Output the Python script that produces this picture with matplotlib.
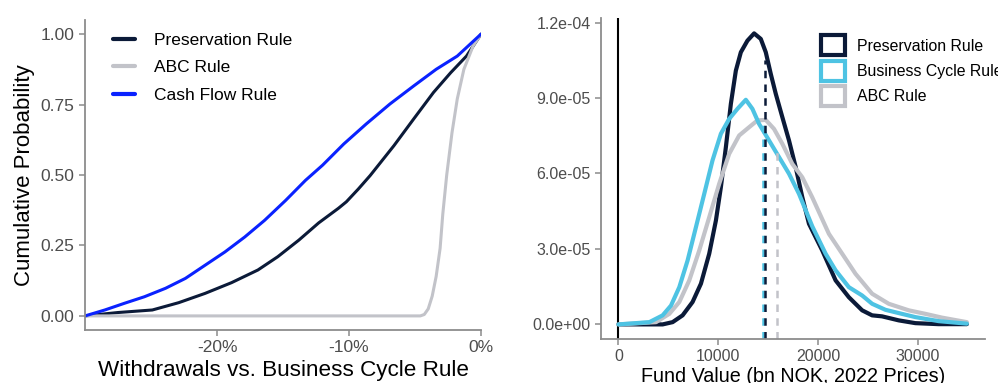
import matplotlib.pyplot as plt
from matplotlib.patches import Patch
from matplotlib.ticker import FuncFormatter

plt.rcParams['font.family'] = ['Liberation Sans', 'DejaVu Sans']

NAVY = '#0b1a38'
BLUE = '#0a22ff'
SKY = '#4ec3e3'
GREY = '#c2c3c9'
TICK = '#4d4d4d'
AXIS = '#8c8c8c'

# withdrawal gap (share) vs cumulative probability
pres_x = [-0.300, -0.275, -0.249, -0.229, -0.209, -0.189, -0.169, -0.154, -0.138,
          -0.123, -0.108, -0.102, -0.093, -0.084, -0.066, -0.051, -0.036, -0.023,
          -0.011, 0.0]
pres_p = [0.0, 0.012, 0.021, 0.047, 0.080, 0.118, 0.163, 0.210, 0.269,
          0.330, 0.382, 0.405, 0.450, 0.498, 0.604, 0.699, 0.793, 0.863,
          0.922, 1.0]

abc_x = [-0.300, -0.046, -0.043, -0.040, -0.037, -0.034, -0.031, -0.029, -0.026,
         -0.022, -0.018, -0.013, -0.006, 0.0]
abc_p = [0.0, 0.0, 0.005, 0.025, 0.070, 0.140, 0.240, 0.360, 0.500,
         0.650, 0.770, 0.875, 0.958, 1.0]

cash_x = [-0.300, -0.285, -0.270, -0.255, -0.239, -0.224, -0.209, -0.194, -0.179,
          -0.164, -0.148, -0.133, -0.120, -0.104, -0.087, -0.069, -0.051, -0.034,
          -0.018, 0.0]
cash_p = [0.0, 0.021, 0.045, 0.068, 0.098, 0.133, 0.180, 0.227, 0.280,
          0.339, 0.410, 0.481, 0.535, 0.610, 0.681, 0.752, 0.816, 0.875,
          0.922, 1.0]

# fund value densities
pres_v = [0, 4430, 5430, 6430, 7430, 8270, 9100, 9770, 10270, 10770, 11270, 11770,
          12270, 12930, 13600, 14270, 14770, 15270, 15770, 16430, 17100, 17770,
          18430, 19100, 20430, 21770, 23100, 24430, 25430, 26430, 28100, 29770,
          32100, 34930]
pres_d = [0.0, 0.0, 0.9e-6, 3.6e-6, 8.9e-6, 1.62e-5, 2.81e-5, 4.13e-5, 5.46e-5,
          7.05e-5, 8.77e-5, 1.009e-4, 1.082e-4, 1.128e-4, 1.157e-4, 1.135e-4,
          1.082e-4, 9.96e-5, 9.17e-5, 8.24e-5, 7.31e-5, 6.25e-5, 5.06e-5, 4.0e-5,
          2.94e-5, 1.75e-5, 1.08e-5, 5.6e-6, 3.6e-6, 3.2e-6, 1.6e-6, 0.5e-6,
          0.1e-6, 0.1e-6]

bcr_v = [0, 3100, 4430, 5270, 6100, 6930, 7770, 8600, 9430, 10270, 11100, 11930,
         12770, 13430, 14100, 15100, 16100, 17100, 18100, 19430, 20770, 21770,
         23100, 24430, 25430, 26770, 28100, 29770, 32100, 34930]
bcr_d = [0.0, 0.9e-6, 3.6e-6, 7.5e-6, 1.48e-5, 2.54e-5, 3.87e-5, 5.19e-5, 6.52e-5,
         7.58e-5, 8.17e-5, 8.57e-5, 8.93e-5, 8.57e-5, 7.97e-5, 7.31e-5, 6.65e-5,
         5.99e-5, 5.19e-5, 3.9e-5, 2.81e-5, 2.15e-5, 1.48e-5, 1.15e-5, 8.2e-6,
         5.8e-6, 4.5e-6, 2.9e-6, 1.3e-6, 0.3e-6]

abcv_v = [0, 3770, 5100, 6100, 7100, 8100, 9100, 10100, 11100, 12100, 13100, 13930,
          14770, 15600, 16430, 17430, 18430, 19430, 21100, 22430, 23770, 25430,
          27100, 29100, 30770, 32430, 34930]
abcv_d = [0.0, 0.9e-6, 4.2e-6, 8.9e-6, 1.75e-5, 2.94e-5, 4.26e-5, 5.59e-5, 6.78e-5,
          7.51e-5, 7.84e-5, 8.11e-5, 8.13e-5, 7.77e-5, 7.18e-5, 6.38e-5, 5.85e-5,
          5.05e-5, 3.6e-5, 2.81e-5, 2.01e-5, 1.22e-5, 8.2e-6, 5.6e-6, 4.2e-6,
          2.7e-6, 0.9e-6]

# means (dashed markers) and density height at each mean
mean_vals = [14530, 14670, 15870]
mean_dens = [8.0e-5, 1.05e-4, 7.0e-5]
mean_cols = [SKY, NAVY, GREY]


def style_axes(ax):
    for side in ('top', 'right'):
        ax.spines[side].set_visible(False)
    for side in ('left', 'bottom'):
        ax.spines[side].set_color(AXIS)
        ax.spines[side].set_linewidth(1.3)
    ax.tick_params(colors=AXIS, labelcolor=TICK, length=4, width=1.1)


fig = plt.figure(figsize=(9.98, 3.83), dpi=100)

# left: cumulative distribution of withdrawals
ax1 = fig.add_axes([0.0852, 0.1384, 0.3968, 0.8094])
kw = dict(lw=2.2, solid_joinstyle='round', solid_capstyle='round')
ax1.plot(pres_x, pres_p, color=NAVY, label='Preservation Rule', **kw)
ax1.plot(abc_x, abc_p, color=GREY, label='ABC Rule', **kw)
ax1.plot(cash_x, cash_p, color=BLUE, label='Cash Flow Rule', **kw)
ax1.set_xlim(-0.30, 0.0)
ax1.set_ylim(-0.05, 1.05)
ax1.set_xticks([-0.2, -0.1, 0.0])
ax1.xaxis.set_major_formatter(FuncFormatter(lambda v, _: f'{v * 100:.0f}%'))
ax1.set_yticks([0, 0.25, 0.5, 0.75, 1.0])
ax1.yaxis.set_major_formatter(FuncFormatter(lambda v, _: f'{v:.2f}'))
style_axes(ax1)
ax1.tick_params(labelsize=12.5)
ax1.set_xlabel('Withdrawals vs. Business Cycle Rule', fontsize=16.2, labelpad=3)
ax1.set_ylabel('Cumulative Probability', fontsize=16, labelpad=4)
leg1 = ax1.legend(loc='upper left', bbox_to_anchor=(0.03, 1.01), frameon=False,
                  fontsize=12.5, handlelength=1.3, handletextpad=1.1,
                  labelspacing=0.72)
for h in leg1.legend_handles:
    h.set_linewidth(3)

# right: distribution of final fund value
ax2 = fig.add_axes([0.6022, 0.1149, 0.3848, 0.838])
ax2.axvline(0, color='black', lw=1.5)
kw2 = dict(lw=3, solid_joinstyle='round', solid_capstyle='round')
ax2.plot(pres_v, pres_d, color=NAVY, **kw2)
ax2.plot(abcv_v, abcv_d, color=GREY, **kw2)
ax2.plot(bcr_v, bcr_d, color=SKY, **kw2)
for m, d, c in zip(mean_vals, mean_dens, mean_cols):
    ax2.plot([m, m], [-5.8e-6, d], color=c, lw=1.8, ls=(0, (3, 2.5)))
ax2.set_xlim(-1750, 36750)
ax2.set_ylim(-5.8e-6, 1.218e-4)
ax2.set_xticks([0, 10000, 20000, 30000])
ax2.set_yticks([0, 3e-5, 6e-5, 9e-5, 1.2e-4])
ax2.yaxis.set_major_formatter(FuncFormatter(
    lambda v, _: '0.0e+00' if v == 0 else f'{v:.1e}'))
style_axes(ax2)
ax2.tick_params(labelsize=11.5)
ax2.set_xlabel('Fund Value (bn NOK, 2022 Prices)', fontsize=14.2, labelpad=2)

handles = [Patch(facecolor='white', edgecolor=c, lw=3) for c in (NAVY, SKY, GREY)]
ax2.legend(handles, ['Preservation Rule', 'Business Cycle Rule', 'ABC Rule'],
           loc='upper left', bbox_to_anchor=(0.535, 0.99), frameon=False,
           fontsize=11.4, handlelength=1.55, handleheight=1.55,
           handletextpad=0.75, labelspacing=0.35)

fig.savefig('out.png', dpi=100)
